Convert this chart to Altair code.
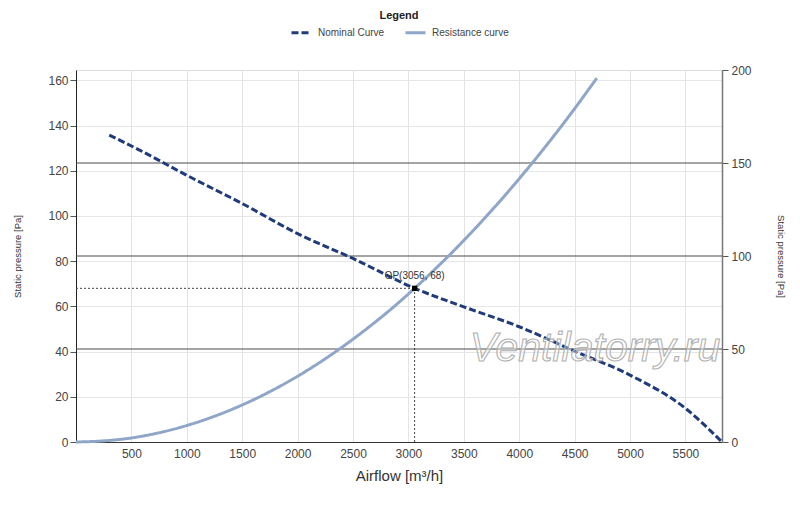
import altair as alt
import pandas as pd

# ---- data ----
nom_x = [300, 564, 1000, 1500, 2000, 2500, 3056, 3500, 4000, 4500, 5000, 5500, 5830]
nom_y = [135.8, 129.4, 118.0, 105.5, 92.2, 81.2, 68.0, 59.8, 51.0, 40.2, 29.6, 14.9, 0.0]
res_x = [0, 250, 500, 750, 1000, 1500, 2000, 2500, 3000, 3056, 3500, 4000, 4500, 4700]
res_y = [0.0, 0.5, 1.8, 4.1, 7.3, 16.4, 29.1, 45.5, 65.5, 68.0, 89.2, 116.5, 147.5, 161.0]
series_names = ["Nominal Curve", "Resistance curve"]
op_x = [3056]
op_y = [68]
op_label = ["OP(3056, 68)"]
x_ticks = [500, 1000, 1500, 2000, 2500, 3000, 3500, 4000, 4500, 5000, 5500]
left_ticks = [0, 20, 40, 60, 80, 100, 120, 140, 160]
right_ticks = [0, 50, 100, 150, 200]
right_lines = [50, 100, 150]
watermark = ["Ventilatorry.ru"]

X_DOMAIN = [0, 5830]
YL_DOMAIN = [0, 164.6]
YR_DOMAIN = [0, 200]
FONT = "Liberation Sans"

curves = pd.concat([
    pd.DataFrame({"x": nom_x, "y": nom_y, "series": series_names[0]}),
    pd.DataFrame({"x": res_x, "y": res_y, "series": series_names[1]}),
])
op = pd.DataFrame({"x": op_x, "y": op_y, "x0": [0], "y0": [0], "label": op_label})

xs = alt.Scale(domain=X_DOMAIN, nice=False, zero=False)
yls = alt.Scale(domain=YL_DOMAIN, nice=False)
yrs = alt.Scale(domain=YR_DOMAIN, nice=False)

x_axis = alt.Axis(
    values=x_ticks, format="d", title="Airflow [m³/h]", grid=True, gridColor="#e3e3e3",
    domainColor="#333", ticks=False, labelPadding=6, labelFontSize=12,
    labelColor="#444", titleFontSize=15, titleFontWeight="normal",
    titleColor="#333", titlePadding=9, labelFont=FONT, titleFont=FONT)
yl_axis = alt.Axis(
    orient="left", values=left_ticks, format="d", title="Static pressure [Pa]", grid=True,
    gridColor="#e6e6e6", domainColor="#222", tickColor="#555", tickSize=6,
    labelPadding=2, labelFontSize=12, labelColor="#444", titleFontSize=9.5,
    titleFontWeight="normal", titleColor="#333", titlePadding=25,
    labelFont=FONT, titleFont=FONT)

legend = alt.Legend(
    title="Legend", orient="none", legendX=214, legendY=-60, direction="horizontal",
    titleAnchor="middle", titleFontSize=11, titleFontWeight="bold", titleColor="#222",
    titleFont=FONT, labelFont=FONT, labelFontSize=10, labelColor="#444",
    symbolType="stroke", symbolSize=400, symbolStrokeWidth=3, columnPadding=14,
    labelOffset=5, padding=0, titlePadding=0,
)

lines = alt.Chart(curves).mark_line(strokeWidth=3, interpolate="monotone").encode(
    x=alt.X("x:Q", scale=xs, axis=x_axis),
    y=alt.Y("y:Q", scale=yls, axis=yl_axis),
    color=alt.Color("series:N", scale=alt.Scale(domain=series_names,
                                                range=["#1f3b7a", "#8fa6c9"]),
                    legend=legend),
    strokeDash=alt.StrokeDash("series:N", scale=alt.Scale(domain=series_names,
                                                          range=[[7, 3], [1, 0]]),
                              legend=legend),
)

h_rule = alt.Chart(op).mark_rule(color="#444", strokeDash=[2, 2], strokeWidth=1).encode(
    x=alt.X("x0:Q", scale=xs, axis=x_axis), x2="x:Q",
    y=alt.Y("y:Q", scale=yls, axis=yl_axis))
v_rule = alt.Chart(op).mark_rule(color="#444", strokeDash=[2, 2], strokeWidth=1).encode(
    x=alt.X("x:Q", scale=xs, axis=x_axis),
    y=alt.Y("y0:Q", scale=yls, axis=yl_axis), y2="y:Q")
op_pt = alt.Chart(op).mark_square(color="black", size=28, opacity=1).encode(
    x=alt.X("x:Q", scale=xs, axis=x_axis), y=alt.Y("y:Q", scale=yls, axis=yl_axis))
op_txt = alt.Chart(op).mark_text(dy=-12, fontSize=10, color="#333", font=FONT).encode(
    x=alt.X("x:Q", scale=xs, axis=x_axis), y=alt.Y("y:Q", scale=yls, axis=yl_axis),
    text="label:N")

wm = alt.Chart(pd.DataFrame({"t": watermark})).mark_text(
    fontSize=41, fontStyle="italic", font=FONT, fill="white", fillOpacity=0.35,
    stroke="#b0b0b0", strokeWidth=1.1, align="center", baseline="middle",
).encode(x=alt.value(519), y=alt.value(279), text="t:N")

left = alt.layer(lines, h_rule, v_rule, op_pt, op_txt, wm)

right = alt.Chart(pd.DataFrame({"r": right_lines})).mark_rule(
    color="#4a4a4a", strokeWidth=1.1).encode(
    y=alt.Y("r:Q", scale=yrs, axis=alt.Axis(
        orient="right", values=right_ticks, format="d", title="Static pressure [Pa]",
        grid=False, domainColor="#777", domainWidth=1.5, tickColor="#555", tickSize=6,
        labelPadding=3, labelFontSize=12, labelColor="#444", titleFontSize=9.5,
        titleFontWeight="normal", titleColor="#333", titlePadding=24,
        labelFont=FONT, titleFont=FONT)),
)

chart = alt.layer(right, left).resolve_scale(y="independent").properties(
    width=646, height=372,
    padding={"left": 68, "top": 62, "right": 70, "bottom": 50},
    autosize=alt.AutoSizeParams(type="none"),
).configure_view(stroke="#aaa", strokeWidth=1).configure(background="white")

chart.save("out.html", embed_options={"renderer": "svg", "actions": False})
